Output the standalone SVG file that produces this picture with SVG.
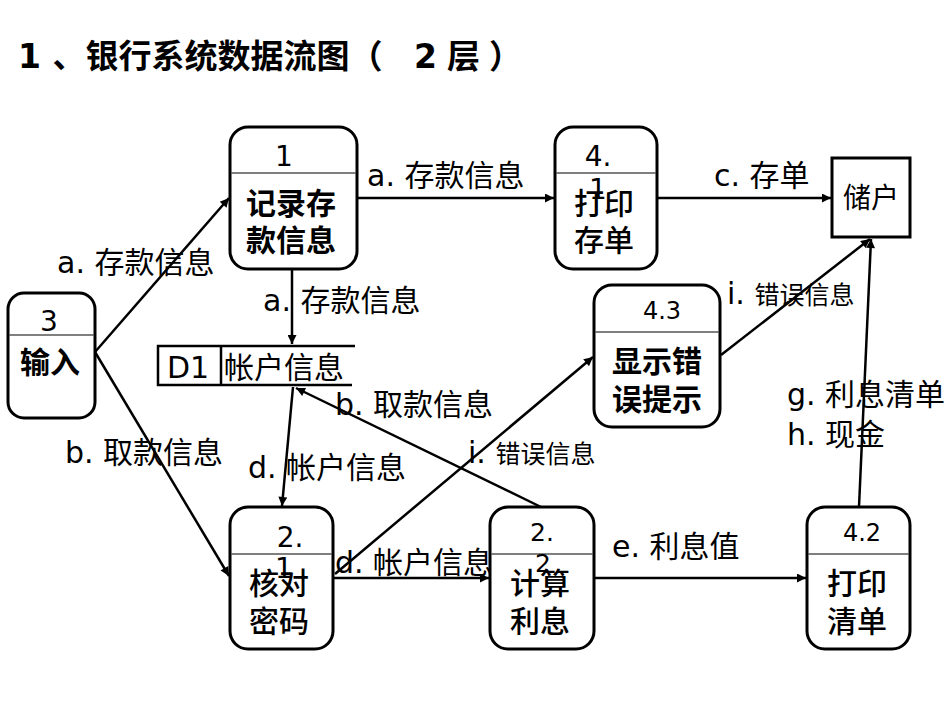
<svg xmlns="http://www.w3.org/2000/svg" width="950" height="713" viewBox="0 0 950 713">
<style>
text{font-family:"DejaVu Sans","Noto Sans CJK SC",sans-serif;fill:#000}
.t{font-size:33px;font-weight:bold}
.num{font-size:28px;text-anchor:middle}
.nb{font-size:30px;font-weight:bold;text-anchor:middle}
.nr{font-size:30px;font-weight:500;text-anchor:middle}
.lbl{font-size:30px}
.sm{font-size:25px}
.box{fill:#fff;stroke:#000;stroke-width:3}
.div{stroke:#555;stroke-width:1.5}
.ln{stroke:#000;stroke-width:2.5;fill:none}
.st{stroke:#000;stroke-width:2.5;fill:none}
</style>
<defs>
<marker id="ah" viewBox="0 0 10 10" refX="10" refY="5" markerWidth="11" markerHeight="9" markerUnits="userSpaceOnUse" orient="auto">
<path d="M0,0 L10,5 L0,10 Z" fill="#000"/>
</marker>
</defs>
<rect width="950" height="713" fill="#fff"/>
<text class="t" x="18" y="68">1 、银行系统数据流图（<tspan x="414">2</tspan><tspan x="447">层</tspan><tspan x="489">）</tspan></text>

<g id="connectors">
<line class="ln" x1="95" y1="352" x2="229" y2="198" marker-end="url(#ah)"/>
<line class="ln" x1="95" y1="352" x2="229" y2="576" marker-end="url(#ah)"/>
<line class="ln" x1="357" y1="198" x2="554" y2="198" marker-end="url(#ah)"/>
<line class="ln" x1="657" y1="198" x2="831" y2="198" marker-end="url(#ah)"/>
<line class="ln" x1="292" y1="269" x2="292" y2="344" marker-end="url(#ah)"/>
<line class="ln" x1="293" y1="387" x2="282" y2="506" marker-end="url(#ah)"/>
<line class="ln" x1="541" y1="507" x2="296" y2="388" marker-end="url(#ah)"/>
<line class="ln" x1="335" y1="574" x2="593" y2="357" marker-end="url(#ah)"/>
<line class="ln" x1="333" y1="578" x2="489" y2="578" marker-end="url(#ah)"/>
<line class="ln" x1="594" y1="578" x2="806" y2="578" marker-end="url(#ah)"/>
<line class="ln" x1="721" y1="355" x2="870" y2="239" marker-end="url(#ah)"/>
<line class="ln" x1="859" y1="507" x2="871" y2="239" marker-end="url(#ah)"/>
<text class="lbl" x="57" y="273">a. 存款信息</text>
<text class="lbl" x="367" y="186">a. 存款信息</text>
<text class="lbl" x="714" y="186">c. 存单</text>
<text class="lbl" x="263" y="311">a. 存款信息</text>
<text class="lbl" x="335" y="415">b. 取款信息</text>
<text class="lbl" x="65" y="463">b. 取款信息</text>
<text class="lbl" x="248" y="478">d. 帐户信息</text>
<text class="lbl" x="468" y="463">i. <tspan class="sm">错误信息</tspan></text>
<text class="lbl" x="335" y="573">d. 帐户信息</text>
<text class="lbl" x="612" y="557">e. 利息值</text>
<text class="lbl" x="727" y="304">i. <tspan class="sm">错误信息</tspan></text>
<text class="lbl" x="787" y="405">g. 利息清单</text>
<text class="lbl" x="787" y="445">h. 现金</text>
</g>

<g id="n1">
<rect class="box" x="230" y="127" width="127" height="142" rx="18"/>
<line class="div" x1="231" y1="173" x2="356" y2="173"/>
<text class="num" x="284" y="166">1</text>
<text class="nb" x="291" y="214">记录存</text>
<text class="nb" x="291" y="251">款信息</text>
</g>

<g id="n41">
<rect class="box" x="555" y="127" width="102" height="142" rx="18"/>
<line class="div" x1="556" y1="173" x2="656" y2="173"/>
<text class="num" x="598" y="166">4.</text>
<text class="num" x="598" y="199">1</text>
<text class="nr" x="604" y="214">打印</text>
<text class="nr" x="604" y="251">存单</text>
</g>

<g id="n3">
<rect class="box" x="8" y="293" width="87" height="125" rx="16"/>
<line class="div" x1="9" y1="335" x2="94" y2="335"/>
<text class="num" x="49" y="331">3</text>
<text class="nb" x="50" y="373">输入</text>
</g>

<g id="d1">
<path class="st" d="M355,346 H158 V385 H352 M221,346 V385"/>
<text class="lbl" x="167" y="378">D1</text>
<text class="lbl" x="224" y="378">帐户信息</text>
</g>

<g id="n43">
<rect class="box" x="594" y="285" width="126" height="142" rx="18"/>
<line class="div" x1="595" y1="332" x2="719" y2="332"/>
<text class="num" x="662" y="319" style="font-size:24px">4.3</text>
<text class="nb" x="657" y="372">显示错</text>
<text class="nb" x="657" y="410">误提示</text>
</g>

<g id="chuhu">
<rect class="box" x="832" y="158" width="78" height="79"/>
<text class="lbl" x="871" y="208" style="font-size:28px;text-anchor:middle">储户</text>
</g>

<g id="n21">
<rect class="box" x="230" y="507" width="103" height="142" rx="18"/>
<line class="div" x1="231" y1="554" x2="332" y2="554"/>
<text class="num" x="290" y="547">2.</text>
<text class="num" x="284" y="578">1</text>
<text class="nr" x="279" y="594">核对</text>
<text class="nr" x="279" y="632">密码</text>
</g>

<g id="n22">
<rect class="box" x="490" y="507" width="104" height="142" rx="18"/>
<line class="div" x1="491" y1="554" x2="593" y2="554"/>
<text class="num" x="542" y="541" style="font-size:25px">2.</text>
<text class="num" x="543" y="572" style="font-size:25px">2</text>
<text class="nr" x="540" y="594">计算</text>
<text class="nr" x="540" y="632">利息</text>
</g>

<g id="n42">
<rect class="box" x="807" y="507" width="103" height="142" rx="18"/>
<line class="div" x1="808" y1="554" x2="909" y2="554"/>
<text class="num" x="862" y="541" style="font-size:24px">4.2</text>
<text class="nr" x="857" y="594">打印</text>
<text class="nr" x="857" y="632">清单</text>
</g>
</svg>
